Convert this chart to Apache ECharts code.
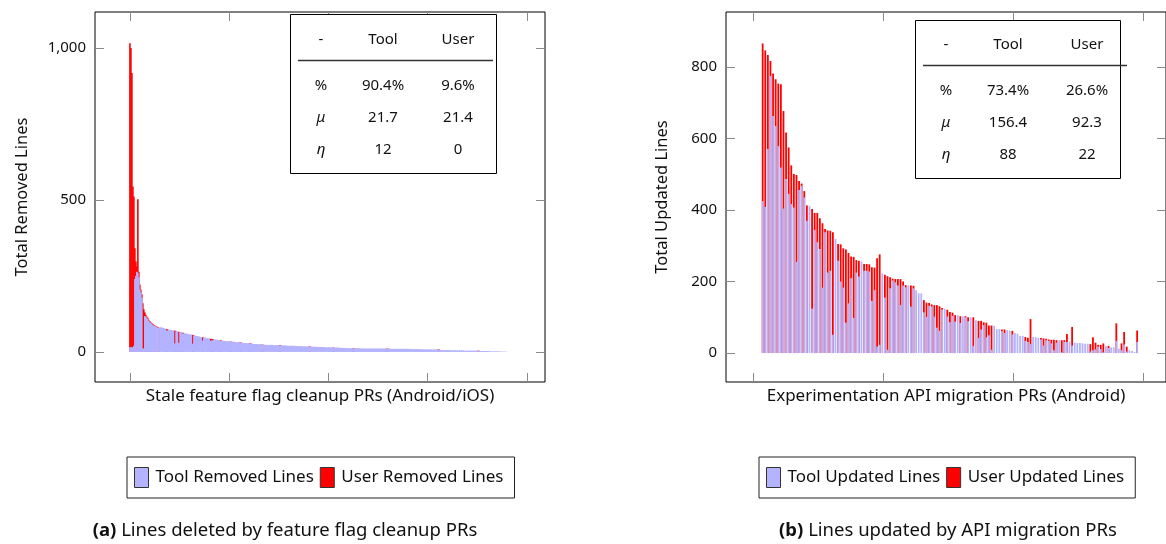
<!DOCTYPE html>
<html><head><meta charset="utf-8">
<script src="https://cdn.jsdelivr.net/npm/echarts@6/dist/echarts.min.js"></script>
<style>html,body{margin:0;padding:0;background:#fff}#c{width:1166px;height:544px}</style>
</head><body><div id="c"></div><script>
// ---------- (a) feature flag cleanup: Removed lines ----------
// head of the distribution (fine resolution)
const headToolA = [15,15,15,15,20,240,250,264,260,245,205,195,178,12,10,118,116,112,108,102,97,96,93,88,87,85,84,82,80,79];
const headUserA = [1000,985,902,529,491,101,47,17,242,19,17,10,12,148,130,12,6,4,4,4,4,2,2,4,2,2,1,2,2,1];
// tail of the distribution
const tailToolA = [81,79,77,69,73,72,71,28,68,30, 65,60,61,60,58,57,27,54,52,51,
  49,37,47,46,45,37,38,41,40,39, 36,37,36,35,35,33,34,33,32,31,
  29,30,29,29,28,27,27,26,26,25, 25,23,24,23,23,23,23,22,22,22,
  20,21,21,21,20,20,20,20,19,19, 19,19,18,18,18,17,17,17,17,16,
  16,16,16,15,15,15,15,13,14,14, 14,13,13,13,12,12,12,11,12,12,
  12,11,11,11,11,11,11,11,11,11, 11,11,11,11,10,11,10,10,10,10,
  10,10,10,10,10,10,9,9,9,9, 9,9,8,8,8,8,8,8,8,8,
  7,6,6,6,6,6,5,5,5,5, 5,5,5,4,4,4,4,4,4,4,
  3,3,3,3,3,3,2,2,2,2, 2,1,1,1,1];
const tailUserA = [0,0,0,6,0,0,0,42,0,36, 0,3,0,0,0,0,29,0,0,0,
  0,11,0,0,0,6,4,0,0,0, 2,0,0,0,0,1,0,0,0,0,
  2,0,0,0,0,1,0,0,0,0, 0,1,0,0,0,0,0,0,0,0,
  2,0,0,0,0,0,0,0,0,0, 0,0,0,0,0,1,0,0,0,0,
  0,0,0,0,0,0,0,1,0,0, 0,0,0,0,0,0,0,1,0,0,
  0,0,0,0,0,0,0,0,0,0, 0,0,0,0,1,0,0,0,0,0,
  0,0,0,0,0,0,0,0,0,0, 0,0,0,0,0,0,0,0,0,0,
  1,0,0,0,0,0,0,0,0,0, 0,0,0,0,0,0,0,0,0,0,
  1,0,0,0,0,0,0,0,0,0, 0,0,0,0,0];
const yTicksA = [0, 500, 1000];
const xTicksA = [0, 500, 1000, 1500, 2000];

// ---------- (b) API migration: Updated lines ----------
const toolB = [425,409,571,775,663,635,579,519,404,487, 445,417,407,255,456,468,435,370,411,124,
  344,310,291,183,338,225,230,51,319,258, 200,183,85,139,209,98,225,214,256,230,
  230,228,146,176,18,23,223,155,9,181, 203,198,189,134,189,184,189,130,181,176,
  167,167,114,101,132,130,102,71,62,122, 124,102,86,104,88,106,84,103,100,89,
  100,20,92,42,66,78,44,50,9,76, 67,67,62,56,64,63,52,56,54,48,
  48,34,31,25,45,45,42,38,21,36, 34,27,8,29,36,2,31,31,32,21,
  29,28,28,27,26,26,4,8,10,18, 11,2,20,14,16,16,34,12,8,24,
  4,8,6,3,31];
const userB = [441,437,263,42,119,131,175,233,273,130, 130,108,94,243,25,6,18,43,0,279,
  48,82,86,180,9,118,112,287,0,47, 104,110,205,141,61,171,35,44,0,19,
  19,20,94,63,247,253,0,64,206,31, 5,9,18,73,11,6,0,59,7,0,
  0,0,34,40,8,6,32,63,69,4, 0,19,29,9,18,0,19,0,3,11,
  0,80,0,48,24,8,41,27,68,0, 0,0,4,10,0,0,10,0,0,0,
  0,11,12,70,0,0,0,4,20,4, 4,10,29,7,0,34,5,22,0,52,
  0,0,0,0,0,0,21,36,19,5, 12,25,0,6,0,0,49,0,19,35,
  14,0,0,0,32];
const yTicksB = [0, 200, 400, 600, 800];
const xTicksB = [0, 50, 100, 150];

const FONT = 'Noto Sans';
const TOOL_C = '#b3b3ff', USER_C = '#ff0000';
const fmt = v => Number(v).toLocaleString('en-US');

// positions of the bars along the x axes (index -> axis value)
const HEAD_STEP = 5, TAIL_STEP = 10, TAIL_START = 155;
const headX = i => HEAD_STEP / 2 + HEAD_STEP * i;
const tailX = i => TAIL_START + TAIL_STEP * i;
const B_OFFSET = 2.7;
const bX = i => i + 1 + B_OFFSET;

// stacked look: the user part sits on top of the tool part
// (a "tool + user" bar drawn behind the tool bar, only where user > 0)
const pair = (vals, fx) => vals.map((v, i) => [fx(i), v]);
const totals = (a, b) => a.map((v, i) => b[i] > 0 ? v + b[i] : '-');

function xAx(grid, min, max, ticks, pos, name) {
  return {
    type: 'value', gridIndex: grid, min, max, position: pos,
    axisLine: {show: false, onZero: false},
    axisTick: {show: true, inside: true, length: 9, customValues: ticks, lineStyle: {color: '#8a8a8a', width: 1}},
    axisLabel: {show: false}, splitLine: {show: false},
    name: name || '', nameLocation: 'middle', nameGap: 6,
    nameTextStyle: {fontFamily: FONT, fontSize: 17, color: '#111', verticalAlign: 'top'}
  };
}
function yAx(grid, min, max, ticks, pos, name, gap) {
  return {
    type: 'value', gridIndex: grid, min, max, position: pos,
    axisLine: {show: false, onZero: false},
    axisTick: {show: true, inside: true, length: 9, customValues: ticks, lineStyle: {color: '#8a8a8a', width: 1}},
    axisLabel: {show: pos === 'left', customValues: ticks, formatter: fmt, margin: 9,
      fontFamily: FONT, fontSize: 15, color: '#111'},
    splitLine: {show: false},
    name: name || '', nameLocation: 'middle', nameGap: gap || 0, nameRotate: 90,
    nameTextStyle: {fontFamily: FONT, fontSize: 16.5, color: '#111'}
  };
}
function bar(name, xi, width, color, data) {
  return {name, type: 'bar', xAxisIndex: xi, yAxisIndex: xi, barWidth: width, barGap: '-100%',
    itemStyle: {color}, data, emphasis: {disabled: true}};
}

const series = [
  bar('User Removed Lines', 0, 1.6, USER_C, pair(totals(headToolA, headUserA), headX)),
  bar('User Removed Lines', 0, 3, USER_C, pair(totals(tailToolA, tailUserA), tailX)),
  bar('Tool Removed Lines', 0, 1.6, TOOL_C, pair(headToolA, headX)),
  bar('Tool Removed Lines', 0, 3, TOOL_C, pair(tailToolA, tailX)),
  bar('User Updated Lines', 2, 1.8, USER_C, pair(totals(toolB, userB), bX)),
  bar('Tool Updated Lines', 2, 1.8, TOOL_C, pair(toolB, bX))
];

function table(x, y, w, h, lineY, lineX1, lineX2, cols, rows, cells) {
  const els = [{type: 'rect', shape: {x, y, width: w, height: h}, style: {fill: '#fff', stroke: '#000', lineWidth: 1}, z: 100},
    {type: 'line', shape: {x1: lineX1, y1: lineY, x2: lineX2, y2: lineY}, style: {stroke: '#333', lineWidth: 1.5}, z: 101}];
  cells.forEach((row, r) => row.forEach((t, c) => {
    els.push({type: 'text', x: cols[c], y: rows[r], z: 102,
      style: {text: t, fontFamily: FONT, fontSize: 15, fill: '#111', align: 'center', verticalAlign: 'middle',
        fontStyle: (c === 0 && (t === 'μ' || t === 'η')) ? 'italic' : 'normal'}});
  }));
  return els;
}
const cellsA = [['-', 'Tool', 'User'], ['%', '90.4%', '9.6%'], ['μ', '21.7', '21.4'], ['η', '12', '0']];
const cellsB = [['-', 'Tool', 'User'], ['%', '73.4%', '26.6%'], ['μ', '156.4', '92.3'], ['η', '88', '22']];

const legendBase = {
  orient: 'horizontal', itemWidth: 14, itemHeight: 20, itemGap: 6, padding: [10, 11, 10, 7],
  borderColor: '#222', borderWidth: 1, icon: 'rect',
  itemStyle: {borderColor: '#333', borderWidth: 1},
  textStyle: {fontFamily: FONT, fontSize: 17, color: '#111', padding: [0, 0, 0, 2]}
};

const capStyle = {fontFamily: FONT, fontSize: 18.5, fontWeight: 'normal', color: '#111',
  rich: {b: {fontFamily: FONT, fontSize: 18.5, fontWeight: 'bold', color: '#111'}}};

const option = {
  animation: false,
  backgroundColor: '#fff',
  grid: [
    {left: 95, top: 12, width: 450, height: 370, show: true, borderColor: '#000', borderWidth: 1, containLabel: false},
    {left: 726, top: 12, width: 440, height: 370, show: true, borderColor: '#000', borderWidth: 1, containLabel: false}
  ],
  xAxis: [
    xAx(0, -177, 2091, xTicksA, 'bottom', 'Stale feature flag cleanup PRs (Android/iOS)'),
    xAx(0, -177, 2091, xTicksA, 'top'),
    xAx(1, -10.4, 158.8, xTicksB, 'bottom', 'Experimentation API migration PRs (Android)'),
    xAx(1, -10.4, 158.8, xTicksB, 'top')
  ],
  yAxis: [
    yAx(0, -99, 1118, yTicksA, 'left', 'Total Removed Lines', 64),
    yAx(0, -99, 1118, yTicksA, 'right'),
    yAx(1, -81, 954, yTicksB, 'left', 'Total Updated Lines', 55),
    yAx(1, -81, 954, yTicksB, 'right')
  ],
  legend: [
    Object.assign({}, legendBase, {left: 127, top: 457, data: ['Tool Removed Lines', 'User Removed Lines']}),
    Object.assign({}, legendBase, {left: 759, top: 457, data: ['Tool Updated Lines', 'User Updated Lines']})
  ],
  title: [
    {text: '{b|(a)} Lines deleted by feature flag cleanup PRs', left: 280, top: 516, textAlign: 'center', textStyle: capStyle},
    {text: '{b|(b)} Lines updated by API migration PRs', left: 943, top: 516, textAlign: 'center', textStyle: capStyle}
  ],
  graphic: [].concat(
    table(290.5, 14.5, 206, 159, 60.5, 298, 493, [321, 383, 458], [40, 86, 118, 150], cellsA),
    table(915.5, 20.5, 205, 158, 65.5, 923, 1127, [946, 1008, 1087], [45, 91, 123, 155], cellsB)
  ),
  series
};
const chart = echarts.init(document.getElementById('c'), null, {renderer: 'canvas'});
chart.setOption(option);
</script></body></html>
